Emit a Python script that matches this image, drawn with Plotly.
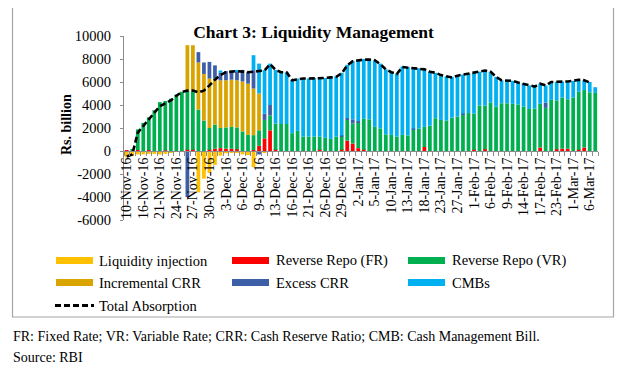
import plotly.graph_objects as go

# ---------------- data ----------------
dates = [
    "10-Nov-16", "11-Nov-16", "15-Nov-16", "16-Nov-16", "17-Nov-16", "18-Nov-16",
    "21-Nov-16", "22-Nov-16", "23-Nov-16", "24-Nov-16", "25-Nov-16", "26-Nov-16",
    "27-Nov-16", "28-Nov-16", "29-Nov-16", "30-Nov-16", "1-Dec-16", "2-Dec-16",
    "3-Dec-16", "4-Dec-16", "5-Dec-16", "6-Dec-16", "7-Dec-16", "8-Dec-16",
    "9-Dec-16", "10-Dec-16", "12-Dec-16", "13-Dec-16", "14-Dec-16", "15-Dec-16",
    "16-Dec-16", "19-Dec-16", "20-Dec-16", "21-Dec-16", "22-Dec-16", "23-Dec-16",
    "26-Dec-16", "27-Dec-16", "28-Dec-16", "29-Dec-16", "30-Dec-16", "31-Dec-16",
    "2-Jan-17", "3-Jan-17", "4-Jan-17", "5-Jan-17", "6-Jan-17", "9-Jan-17",
    "10-Jan-17", "11-Jan-17", "12-Jan-17", "13-Jan-17", "16-Jan-17", "17-Jan-17",
    "18-Jan-17", "19-Jan-17", "20-Jan-17", "23-Jan-17", "24-Jan-17", "25-Jan-17",
    "27-Jan-17", "30-Jan-17", "31-Jan-17", "1-Feb-17", "2-Feb-17", "3-Feb-17",
    "6-Feb-17", "7-Feb-17", "8-Feb-17", "9-Feb-17", "10-Feb-17", "13-Feb-17",
    "14-Feb-17", "15-Feb-17", "16-Feb-17", "17-Feb-17", "20-Feb-17", "21-Feb-17",
    "23-Feb-17", "27-Feb-17", "28-Feb-17", "1-Mar-17", "2-Mar-17", "3-Mar-17",
    "6-Mar-17", "7-Mar-17",
]

liquidity_injection = [
    -550, -420, -300, -300, -250, -250, -300, -250, -150, -80, 0, 0,
    0, -3600, -2400, -1900, -1200, -400, -200, -150, -150, -300, -350, -1400,
    0, -100, 0, 0, -50, 0, 0, 0, 0, 0, 0, 0,
    0, 0, 0, 0, 0, 0, 0, 0, -60, -60, -60, 0,
    0, 0, 0, 0, 0, 0, 0, 0, 0, 0, 0, 0,
    0, 0, 0, 0, 0, 0, 0, 0, 0, 0, -80, -80,
    -80, -80, -80, -60, 0, 0, 0, 0, 0, 0, 0, 0,
    -60, 0,
]
reverse_repo_fr = [
    80, 0, 80, 0, 80, 0, 0, 50, 0, 0, 0, 100,
    100, 0, 0, 100, 200, 250, 200, 200, 150, 0, 0, 80,
    450, 1100, 1800, 100, 0, 0, 0, 0, 0, 0, 0, 100,
    0, 0, 0, 100, 900, 650, 250, 100, 0, 0, 0, 0,
    0, 0, 0, 0, 0, 0, 350, 0, 0, 0, 0, 0,
    0, 0, 0, 100, 0, 150, 0, 0, 0, 0, 0, 0,
    0, 0, 0, 300, 0, 0, 150, 200, 200, 0, 100, 300,
    0, 0,
]
reverse_repo_vr = [
    0, 100, 1800, 2450, 2850, 3550, 4250, 4300, 4550, 4900, 5150, 5150,
    5100, 3600, 2650, 1900, 2100, 1750, 1850, 1900, 1900, 1700, 1400, 1300,
    1350, 1600, 1300, 2300, 2350, 2350, 1550, 1750, 1250, 1250, 1250, 1150,
    1150, 1050, 1250, 1150, 1800, 1750, 2250, 2700, 2750, 2100, 1950, 1450,
    1400, 1250, 1400, 1350, 1850, 1950, 1750, 2200, 2850, 2700, 2650, 2900,
    3000, 3200, 3300, 3150, 3950, 3800, 4200, 3850, 4150, 4150, 4100, 4050,
    3850, 3650, 3700, 3800, 3750, 4450, 4250, 4450, 4300, 4650, 5050, 5000,
    5100, 5050,
]
incremental_crr = [
    0, 0, 0, 0, 0, 0, 0, 0, 0, 0, 0, 3950,
    4000, 4100, 4050, 4300, 4000, 4150, 4100, 4100, 4100, 4350, 4450, 4050,
    3200, 0, 0, 0, 0, 0, 0, 0, 0, 0, 0, 0,
    0, 0, 0, 0, 0, 0, 0, 0, 0, 0, 0, 0,
    0, 0, 0, 0, 0, 0, 0, 0, 0, 0, 0, 0,
    0, 0, 0, 0, 0, 0, 0, 0, 0, 0, 0, 0,
    0, 0, 0, 0, 0, 0, 0, 0, 0, 0, 0, 0,
    0, 0,
]
excess_crr = [
    0, 0, 0, 0, 0, 0, 0, 0, 0, 0, 0, -4000,
    0, 900, 1000, 1450, 1150, 650, 800, 750, 800, 1000, 1000, 1600,
    -300, 550, 900, 0, 0, 0, 0, 0, 0, 0, 0, 0,
    0, 0, 0, 100, 150, 350, 100, 0, 0, 0, 0, 0,
    0, 0, 0, 0, 100, 0, 0, 0, 0, 0, 0, 0,
    0, 50, 0, 0, 0, 0, 0, 0, 0, 0, 0, 0,
    0, 0, 0, 0, 450, 0, 0, 0, 0, 0, 0, 0,
    0, 0,
]
cmbs = [
    0, 0, 0, 0, 0, 0, 0, 0, 0, 0, 0, 0,
    0, 0, 0, 0, 0, 200, 0, 0, 100, 0, 0, 1300,
    2600, 3800, 3600, 4650, 4550, 4500, 4600, 4550, 5050, 5050, 5100, 5150,
    5200, 5350, 5250, 5450, 4650, 5100, 5350, 5200, 5250, 5800, 5650, 5650,
    5500, 5500, 5950, 5950, 5250, 5250, 5000, 4700, 3950, 3900, 3850, 3550,
    3550, 3400, 3450, 3550, 2950, 3050, 2700, 2600, 2000, 2000, 2000, 1900,
    2050, 2050, 1900, 1750, 1500, 1550, 1600, 1400, 1550, 1450, 1050, 850,
    900, 500,
]
total_absorption = [
    -470, -300, 1600, 2200, 2750, 3300, 3900, 4150, 4400, 4800, 5130, 5250,
    5250, 5100, 5250, 5700, 6200, 6600, 6850, 6900, 6950, 6900, 6850, 6900,
    6950, 7000, 7550, 7050, 6850, 6850, 6150, 6250, 6300, 6300, 6300, 6350,
    6350, 6400, 6450, 6750, 7450, 7800, 7900, 7950, 7950, 7900, 7550, 7100,
    6850, 6700, 7300, 7250, 7200, 7150, 7100, 6900, 6800, 6600, 6500, 6400,
    6550, 6650, 6700, 6800, 6900, 7000, 6900, 6450, 6150, 6100, 6100, 5950,
    5850, 5700, 5600, 5850, 5700, 6000, 6000, 6050, 6050, 6100, 6200, 6150,
    5950, None,
]

y_tick_values = [-6000, -4000, -2000, 0, 2000, 4000, 6000, 8000, 10000]
y_tick_labels = ["-6000", "-4000", "-2000", "0", "2000", "4000", "6000", "8000", "10000"]

series = [
    ("Liquidity injection", liquidity_injection, "#FFC000"),
    ("Reverse Repo (FR)", reverse_repo_fr, "#FF0000"),
    ("Reverse Repo (VR)", reverse_repo_vr, "#00B050"),
    ("Incremental CRR", incremental_crr, "#D9A300"),
    ("Excess CRR", excess_crr, "#3D5FA8"),
    ("CMBs", cmbs, "#00B0F0"),
]

# ---------------- geometry (page pixels; page body has an 8px margin) ----------------
OFF = 8
W, H = 625 - OFF, 373 - OFF
PLOT_L, PLOT_R, PLOT_T, PLOT_B = 124, 598, 36, 220   # page pixel coords of plot area
L, R, T, B = PLOT_L - OFF, W - (PLOT_R - OFF), PLOT_T - OFF, H - (PLOT_B - OFF)
PW, PH = PLOT_R - PLOT_L, PLOT_B - PLOT_T


def px(x):
    return (x - PLOT_L) / PW


def py(y):
    return (PLOT_B - y) / PH


SERIF = "Liberation Serif, Times New Roman, serif"

fig = go.Figure()
for name, vals, col in series:
    fig.add_trace(go.Bar(x=dates, y=vals, name=name, marker=dict(color=col, line=dict(width=0)),
                         showlegend=False))
fig.add_trace(go.Scatter(x=dates, y=total_absorption, name="Total Absorption", mode="lines",
                         line=dict(color="black", width=2.6, dash="6px,3px"),
                         connectgaps=False, showlegend=False))

ticktext = [d if i % 3 == 0 else "" for i, d in enumerate(dates)]

fig.update_layout(
    width=W, height=H,
    margin=dict(l=L, r=R, t=T, b=B, autoexpand=False),
    paper_bgcolor="white", plot_bgcolor="white",
    barmode="relative", bargap=0.32,
    font=dict(family=SERIF, size=14, color="black"),
    title=dict(text="<b>Chart 3: Liquidity Management</b>", x=(313.5 - OFF) / W, xanchor="center",
               y=1 - (32 - OFF) / H, yanchor="middle", xref="container", yref="container",
               font=dict(family=SERIF, size=17.5, color="black")),
    xaxis=dict(type="category", anchor="free", position=6000 / 16000,
               showline=True, linecolor="#8C8C8C", linewidth=1,
               ticks="outside", ticklen=4, tickcolor="#8C8C8C", tickson="boundaries",
               tickmode="array", tickvals=dates, ticktext=ticktext, tickangle=-90,
               tickfont=dict(family=SERIF, size=14, color="black"),
               showgrid=False, zeroline=False, automargin=False),
    yaxis=dict(range=[-6000, 10000], tickmode="array", tickvals=y_tick_values,
               ticktext=y_tick_labels, showline=True, linecolor="#8C8C8C", linewidth=1,
               ticks="outside", ticklen=3, tickcolor="#8C8C8C", ticklabelstandoff=6,
               tickfont=dict(family=SERIF, size=14.5, color="black"),
               showgrid=False, zeroline=False, automargin=False),
)

shapes = []
annotations = []

# outer frame (top edge lies above the visible page)
shapes.append(dict(type="rect", xref="paper", yref="paper", x0=px(12.5), x1=px(613.5),
                   y0=py(317), y1=py(-5), line=dict(color="#A6A6A6", width=1.2),
                   fillcolor="rgba(0,0,0,0)", layer="below"))

# y-axis title
annotations.append(dict(text="<b>Rs. billion</b>", xref="paper", yref="paper", x=px(66), y=py(125),
                        textangle=-90, showarrow=False, xanchor="center", yanchor="middle",
                        font=dict(family=SERIF, size=14, color="black")))

# legend (manual, 3 columns)
col_sw = [56, 232, 408]
col_tx = [97, 274, 450]
row_y = [260.5, 282.5, 305.5]
for k, (name, vals, col) in enumerate(series):
    r, c = divmod(k, 3)
    shapes.append(dict(type="rect", xref="paper", yref="paper",
                       x0=px(col_sw[c]), x1=px(col_sw[c] + 37),
                       y0=py(row_y[r] + 3.5), y1=py(row_y[r] - 3.5),
                       line=dict(width=0), fillcolor=col))
    annotations.append(dict(text=name, xref="paper", yref="paper", x=px(col_tx[c]), y=py(row_y[r]),
                            showarrow=False, xanchor="left", yanchor="middle",
                            font=dict(family=SERIF, size=14.5, color="black")))
shapes.append(dict(type="line", xref="paper", yref="paper", x0=px(55), x1=px(94),
                   y0=py(row_y[2]), y1=py(row_y[2]),
                   line=dict(color="black", width=3, dash="6px,3px")))
annotations.append(dict(text="Total Absorption", xref="paper", yref="paper", x=px(col_tx[0]),
                        y=py(row_y[2]), showarrow=False, xanchor="left", yanchor="middle",
                        font=dict(family=SERIF, size=14.5, color="black")))

# footnotes
annotations.append(dict(text="FR: Fixed Rate; VR: Variable Rate; CRR: Cash Reserve Ratio; CMB: Cash Management Bill.",
                        xref="paper", yref="paper", x=px(11), y=py(336), showarrow=False,
                        xanchor="left", yanchor="middle", font=dict(family=SERIF, size=14, color="black")))
annotations.append(dict(text="Source: RBI", xref="paper", yref="paper", x=px(11), y=py(357),
                        showarrow=False, xanchor="left", yanchor="middle",
                        font=dict(family=SERIF, size=14, color="black")))

fig.update_layout(shapes=shapes, annotations=annotations)
fig.write_html("out.html")
